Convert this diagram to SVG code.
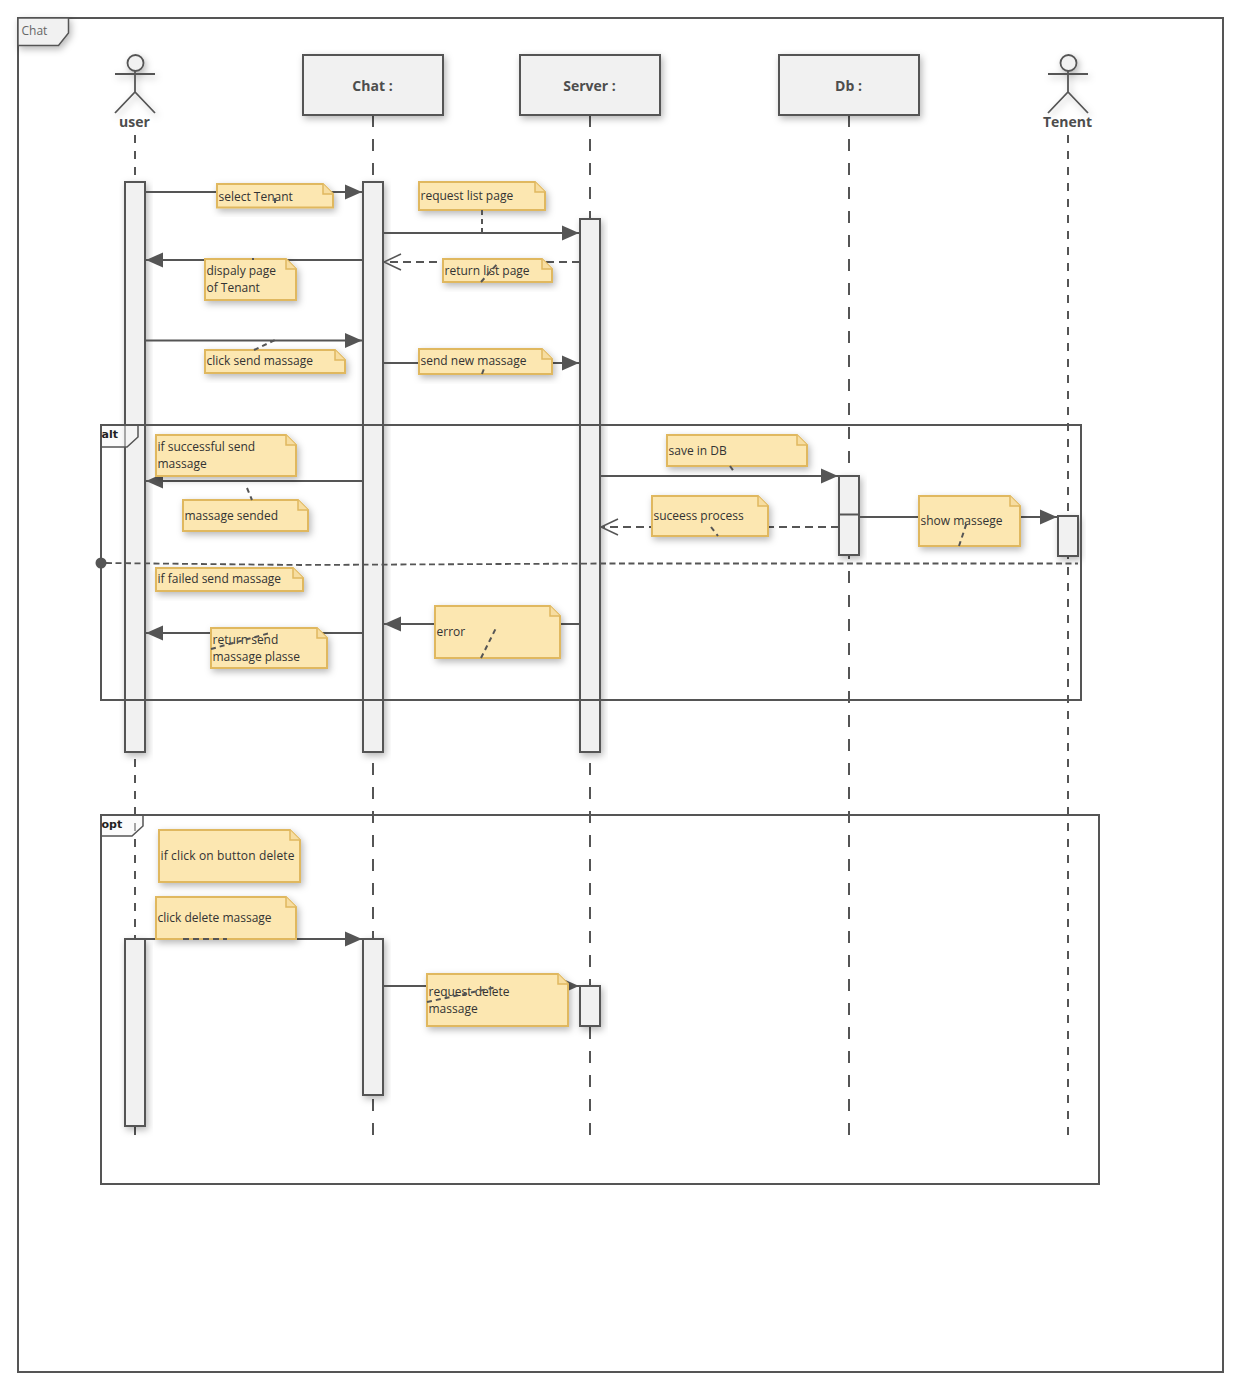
<svg xmlns="http://www.w3.org/2000/svg" width="1243" height="1392" viewBox="0 0 1243 1392">
<style>
text{font-family:"Open Sans","Noto Sans","DejaVu Sans",sans-serif;font-size:12px;fill:#333;transform:translateX(-.5px)}
.b{fill:#f1f1f1;stroke:#555;stroke-width:2}
.f{fill:none;stroke:#555;stroke-width:2}
.t{fill:#f1f1f1;stroke:#555;stroke-width:1.5}
.t2{fill:#f8f8f8;fill-opacity:.5;stroke:#555;stroke-width:1.5}
.n{fill:#fce7b1;stroke:#e0b85f;stroke-width:2}
.nf{fill:#f7dda0;stroke:#e0b85f;stroke-width:1.5}
.life{stroke:#555;stroke-width:2;stroke-dasharray:12 12;fill:none}
.life2{stroke:#555;stroke-width:2;stroke-dasharray:8 8;fill:none}
.m{stroke:#555;stroke-width:2;fill:none}
.arr{marker-end:url(#solid)}
.d{stroke:#555;stroke-width:2;stroke-dasharray:8 5;fill:none}
.open{marker-end:url(#open)}
.lnk{stroke:#555;stroke-width:2;stroke-dasharray:5 4;fill:none}
.lbl{font-weight:700;font-size:14px;fill:#4d4d4d;text-anchor:middle;font-family:"Open Sans","Noto Sans",sans-serif}
.tag{font-weight:700;font-size:11px;fill:#222;font-family:"DejaVu Sans",sans-serif}
.s{filter:url(#sh)}
</style>
<defs>
<filter id="sh" x="-30%" y="-30%" width="170%" height="170%"><feDropShadow dx="2" dy="3" stdDeviation="3.500" flood-color="#000" flood-opacity=".28"/></filter>
<marker id="solid" markerUnits="userSpaceOnUse" markerWidth="18" markerHeight="16" refX="17" refY="8" orient="auto"><path d="M0,0.5L17,8L0,15.5Z" fill="#555"/></marker>
<marker id="open" markerUnits="userSpaceOnUse" markerWidth="20" markerHeight="18" refX="18" refY="9" orient="auto"><path d="M1,1L18,9L1,17" fill="none" stroke="#555" stroke-width="1.5"/></marker>
</defs>
<rect width="1243" height="1392" fill="#fff"/>
<g id="frame-chat">
<rect x="18" y="18" width="1205" height="1354" class="f"/>
<path class="t s" d="M18,18H68.500V33L58.500,45.500H18Z"/>
<text x="22" y="35" style="fill:#666">Chat</text>
</g>
<g id="lifelines">
<path class="life2" d="M135,135V1135"/>
<path class="life" d="M373,115V1135"/>
<path class="life" d="M590,115V1135"/>
<path class="life" d="M849,115V1135"/>
<path class="life2" d="M1068,135V1135"/>
</g>
<g id="actor-user">
<g class="s"><circle cx="135.500" cy="63" r="8" fill="#f1f1f1" stroke="#555" stroke-width="1.800"/>
<path d="M115,74H155M135,71V92M115,113L135,92L155,113" fill="none" stroke="#555" stroke-width="1.800"/></g>
<text x="135" y="127" class="lbl">user</text>
</g>
<g id="node-chat"><rect x="303" y="55" width="140" height="60" class="b s"/><text x="373" y="91" class="lbl">Chat :</text></g>
<g id="node-server"><rect x="520" y="55" width="140" height="60" class="b s"/><text x="590" y="91" class="lbl">Server :</text></g>
<g id="node-db"><rect x="779" y="55" width="140" height="60" class="b s"/><text x="849" y="91" class="lbl">Db :</text></g>
<g id="actor-tenent">
<g class="s"><circle cx="1068.500" cy="63" r="8" fill="#f1f1f1" stroke="#555" stroke-width="1.800"/>
<path d="M1048,74H1088M1068,71V92M1048,113L1068,92L1088,113" fill="none" stroke="#555" stroke-width="1.800"/></g>
<text x="1068" y="127" class="lbl">Tenent</text>
</g>
<g id="activations">
<rect x="125" y="182" width="20" height="570" class="b s"/>
<rect x="363" y="182" width="20" height="570" class="b s"/>
<rect x="580" y="219" width="20" height="533" class="b s"/>
<rect x="839" y="476" width="20" height="79" class="b s"/>
<path class="m" d="M839,514.500H859"/>
<rect x="1058" y="516" width="20" height="40" class="b s"/>
<rect x="125" y="939" width="20" height="187" class="b s"/>
<rect x="363" y="939" width="20" height="156" class="b s"/>
<rect x="580" y="986" width="20" height="40" class="b s"/>
</g>
<g id="frame-alt">
<path class="t2" d="M101,425H138V437L127,447H101Z"/>
<rect x="101" y="425" width="980" height="275" class="f"/>
<text x="102" y="438" class="tag">alt</text>
<circle cx="101" cy="563" r="5.500" fill="#555"/>
<path d="M106,563L300,565L600,563.500H1078" fill="none" stroke="#555" stroke-width="1.800" stroke-dasharray="6 3.500"/>
</g>
<g id="frame-opt">
<path class="t2" d="M101,815H143V826L132,836H101Z"/>
<rect x="101" y="815" width="998" height="369" class="f"/>
<text x="102" y="828" class="tag">opt</text>
</g>
<g id="connectors">
<path class="m arr" d="M145,192H362"/>
<path class="m arr" d="M383,233H579"/>
<path class="d open" d="M580,262H384"/>
<path class="m arr" d="M363,260H146"/>
<path class="m arr" d="M145,340.500H362"/>
<path class="m arr" d="M383,363H579"/>
<path class="m arr" d="M363,481H146"/>
<path class="m arr" d="M600,476H838"/>
<path class="d open" d="M839,527H601"/>
<path class="m arr" d="M859,517H1057"/>
<path class="m arr" d="M580,624H384"/>
<path class="m arr" d="M363,633H146"/>
<path class="m arr" d="M145,939H362"/>
<path class="m arr" d="M383,986H579"/>
</g>
<g id="note-select-tenant"><path class="n s" d="M217,184H323L333,194V207.500H217Z"/><path class="nf" d="M323,184V194H333"/><text x="219" y="201">select Tenant</text></g>
<g id="note-request-list"><path class="n s" d="M419,182H535L545,192V210H419Z"/><path class="nf" d="M535,182V192H545"/><text x="421" y="200">request list page</text></g>
<g id="note-display"><path class="n s" d="M205,259H286L296,269V300H205Z"/><path class="nf" d="M286,259V269H296"/><text x="207" y="275">dispaly page</text><text x="207" y="292">of Tenant</text></g>
<g id="note-return-list"><path class="n s" d="M443,259H542L552,269V282H443Z"/><path class="nf" d="M542,259V269H552"/><text x="445" y="275">return list page</text></g>
<g id="note-click-send"><path class="n s" d="M205,350H335L345,360V373H205Z"/><path class="nf" d="M335,350V360H345"/><text x="207" y="365">click send massage</text></g>
<g id="note-send-new"><path class="n s" d="M419,349H542L552,359V374H419Z"/><path class="nf" d="M542,349V359H552"/><text x="421" y="365">send new massage</text></g>
<g id="note-if-success"><path class="n s" d="M156,435H286L296,445V476H156Z"/><path class="nf" d="M286,435V445H296"/><text x="158" y="451">if successful send</text><text x="158" y="468">massage</text></g>
<g id="note-sended"><path class="n s" d="M183,500H298L308,510V531H183Z"/><path class="nf" d="M298,500V510H308"/><text x="185" y="520">massage sended</text></g>
<g id="note-save"><path class="n s" d="M667,435H797L807,445V466H667Z"/><path class="nf" d="M797,435V445H807"/><text x="669" y="455">save in DB</text></g>
<g id="note-success"><path class="n s" d="M652,496H758L768,506V536H652Z"/><path class="nf" d="M758,496V506H768"/><text x="654" y="520">suceess process</text></g>
<g id="note-show"><path class="n s" d="M919,496H1010L1020,506V546H919Z"/><path class="nf" d="M1010,496V506H1020"/><text x="921" y="525">show massege</text></g>
<g id="note-if-failed"><path class="n s" d="M156,568H293L303,578V591H156Z"/><path class="nf" d="M293,568V578H303"/><text x="158" y="583">if failed send massage</text></g>
<g id="note-error"><path class="n s" d="M435,606H550L560,616V658H435Z"/><path class="nf" d="M550,606V616H560"/><text x="437" y="636">error</text></g>
<g id="note-return-send"><path class="n s" d="M211,628H317L327,638V668H211Z"/><path class="nf" d="M317,628V638H327"/><text x="213" y="644">return send</text><text x="213" y="661">massage plasse</text></g>
<g id="note-if-click"><path class="n s" d="M159,830H290L300,840V882H159Z"/><path class="nf" d="M290,830V840H300"/><text x="161" y="860" textLength="134">if click on button delete</text></g>
<g id="note-click-delete"><path class="n s" d="M156,897H286L296,907V939H156Z"/><path class="nf" d="M286,897V907H296"/><text x="158" y="922">click delete massage</text></g>
<g id="note-request-delete"><path class="n s" d="M427,974H558L568,984V1026H427Z"/><path class="nf" d="M558,974V984H568"/><text x="429" y="996">request delete</text><text x="429" y="1013">massage</text></g>
<g id="note-links">
<path class="lnk" d="M275,198V207"/>
<path class="lnk" d="M482,210V233"/>
<path class="lnk" d="M252,259L254,259"/>
<path class="lnk" d="M481,282L498,263"/>
<path class="lnk" d="M254,350L275,340"/>
<path class="lnk" d="M482,374L485,366"/>
<path class="lnk" d="M247,488L252,500"/>
<path class="lnk" d="M730,466L735,473"/>
<path class="lnk" d="M711,527L718,536"/>
<path class="lnk" d="M959,546L967,522"/>
<path class="lnk" d="M481,658L497,626"/>
<path class="lnk" d="M211,649L270,633"/>
<path class="m" d="M183,939H227" stroke-dasharray="6 4"/>
<path class="lnk" d="M427,1002L497,987"/>
</g>
</svg>
